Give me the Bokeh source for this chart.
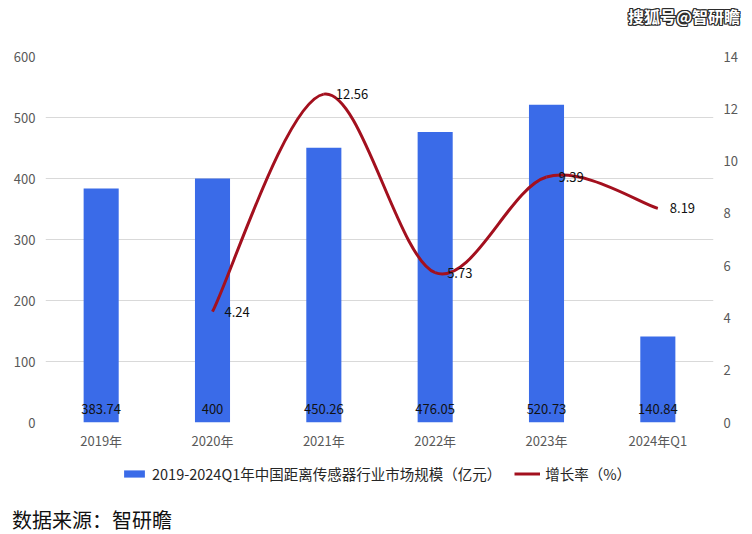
from bokeh.plotting import figure
from bokeh.layouts import column
from bokeh.models import (Range1d, LinearAxis, FixedTicker, ColumnDataSource,
                          LabelSet, Legend, LegendItem, Div)
from bokeh.core.properties import value
from bokeh.embed import file_html
from bokeh.resources import INLINE

# ---- data ----
categories = ["2019年", "2020年", "2021年", "2022年", "2023年", "2024年Q1"]
market_size = [383.74, 400, 450.26, 476.05, 520.73, 140.84]
bar_labels = ["383.74", "400", "450.26", "476.05", "520.73", "140.84"]
growth_categories = ["2020年", "2021年", "2022年", "2023年", "2024年Q1"]
growth_rate = [4.24, 12.56, 5.73, 9.39, 8.19]
growth_labels = ["4.24", "12.56", "5.73", "9.39", "8.19"]
left_ticks = [0, 100, 200, 300, 400, 500, 600]
right_ticks = [0, 2, 4, 6, 8, 10, 12, 14]
bar_name = "2019-2024Q1年中国距离传感器行业市场规模（亿元）"
line_name = "增长率（%）"
source_text = "数据来源：智研瞻"
watermark = "搜狐号@智研瞻"

FONT = "Noto Sans CJK SC"
BAR_COLOR = "#3A6BE8"
LINE_COLOR = "#A3101E"
TICK_COLOR = "#595959"
W = 752

xs = [i + 0.5 for i in range(len(categories))]
gx = [categories.index(c) + 0.5 for c in growth_categories]

# ---- header (watermark) ----
outline = ",".join(f"{dx}px {dy}px 0 #2b2b2b" for dx in (-1, 0, 1) for dy in (-1, 0, 1)
                   if dx or dy)
header = Div(text=watermark, width=W, height=32, margin=0,
             styles={"font-family": FONT, "font-size": "16px", "font-weight": "bold",
                     "color": "#ffffff", "text-shadow": outline,
                     "text-align": "right", "line-height": "32px",
                     "padding-right": "12px", "box-sizing": "border-box",
                     "width": f"{W}px", "height": "32px"})

# ---- main chart ----
p = figure(width=W, height=420, output_backend="svg", toolbar_location=None,
           x_range=Range1d(0, len(categories)), y_range=Range1d(0, 600),
           min_border_left=45, min_border_right=39, min_border_top=24,
           min_border_bottom=28)
p.outline_line_color = None
p.extra_y_ranges = {"right": Range1d(0, 14)}

p.xaxis.ticker = FixedTicker(ticks=xs)
p.xaxis.major_label_overrides = {x: c for x, c in zip(xs, categories)}
p.yaxis.ticker = FixedTicker(ticks=left_ticks)
raxis = LinearAxis(y_range_name="right", ticker=FixedTicker(ticks=right_ticks))
p.add_layout(raxis, "right")
for ax in [p.xaxis[0], p.yaxis[0], raxis]:
    ax.axis_line_color = None
    ax.major_tick_line_color = None
    ax.minor_tick_line_color = None
    ax.major_tick_out = 0
    ax.major_tick_in = 0
    ax.major_label_text_font = FONT
    ax.major_label_text_font_size = "13px"
    ax.major_label_text_color = TICK_COLOR
    ax.major_label_standoff = 10
p.xaxis.major_label_standoff = 8

p.xgrid.grid_line_color = None
p.ygrid.ticker = FixedTicker(ticks=left_ticks)
p.ygrid.grid_line_color = "#D9D9D9"
p.ygrid.grid_line_width = 1

bar_src = ColumnDataSource(dict(x=xs, top=market_size, label=bar_labels))
p.vbar(x="x", top="top", width=0.315, source=bar_src,
       fill_color=BAR_COLOR, line_color=None)
p.add_layout(LabelSet(x="x", y=0, text="label", source=bar_src, y_offset=14,
                      text_align="center", text_baseline="middle",
                      text_font=value(FONT), text_font_size="13px",
                      text_color="#111111"))

# smoothed growth line (Catmull-Rom style bezier through the data points)
n = len(gx)
seg = dict(x0=[], y0=[], x1=[], y1=[], cx0=[], cy0=[], cx1=[], cy1=[])
for i in range(n - 1):
    a = i - 1 if i > 0 else i
    b = i + 2 if i + 2 < n else i + 1
    seg["x0"].append(gx[i]); seg["y0"].append(growth_rate[i])
    seg["x1"].append(gx[i + 1]); seg["y1"].append(growth_rate[i + 1])
    seg["cx0"].append(gx[i] + (gx[i + 1] - gx[a]) / 6)
    seg["cy0"].append(growth_rate[i] + (growth_rate[i + 1] - growth_rate[a]) / 6)
    seg["cx1"].append(gx[i + 1] - (gx[b] - gx[i]) / 6)
    seg["cy1"].append(growth_rate[i + 1] - (growth_rate[b] - growth_rate[i]) / 6)
p.bezier(x0="x0", y0="y0", x1="x1", y1="y1", cx0="cx0", cy0="cy0",
         cx1="cx1", cy1="cy1", source=ColumnDataSource(seg),
         line_color=LINE_COLOR, line_width=3, y_range_name="right")

g_src = ColumnDataSource(dict(x=gx, y=growth_rate, label=growth_labels))
p.add_layout(LabelSet(x="x", y="y", text="label", source=g_src, y_range_name="right",
                      x_offset=12, text_align="left", text_baseline="middle",
                      text_font=value(FONT), text_font_size="13px",
                      text_color="#111111"))

# ---- legend strip ----
footer = figure(width=W, height=40, output_backend="svg", toolbar_location=None,
                x_axis_type=None, y_axis_type=None, min_border=0,
                x_range=Range1d(0, len(categories)), y_range=Range1d(0, 600))
footer.outline_line_color = None
footer.xgrid.grid_line_color = None
footer.ygrid.grid_line_color = None
footer.extra_y_ranges = {"right": Range1d(0, 14)}
leg_bar = footer.vbar(x=xs, top=market_size, width=0.315, fill_color=BAR_COLOR,
                      line_color=None, visible=False)
leg_line = footer.line(x=gx, y=growth_rate, line_color=LINE_COLOR, line_width=3,
                       y_range_name="right", visible=False)
legend = Legend(items=[LegendItem(label=bar_name, renderers=[leg_bar]),
                       LegendItem(label=line_name, renderers=[leg_line])],
                location=(76, 8), orientation="horizontal",
                glyph_width=26, glyph_height=9, label_standoff=5, spacing=13,
                padding=0, margin=0, border_line_alpha=0, background_fill_alpha=0,
                inactive_fill_alpha=0,
                label_text_font=FONT, label_text_font_size="14.5px",
                label_text_color="#262626")
footer.add_layout(legend)

# ---- source note ----
source_div = Div(text=source_text, width=W, height=42, margin=0,
                 styles={"font-family": FONT, "font-size": "20px", "color": "#111111",
                         "line-height": "24px", "padding-top": "16px",
                         "padding-left": "12px", "box-sizing": "border-box",
                         "width": f"{W}px", "height": "42px"})

layout = column(header, p, footer, source_div, spacing=0)
open("out.html", "w").write(file_html(layout, INLINE))
